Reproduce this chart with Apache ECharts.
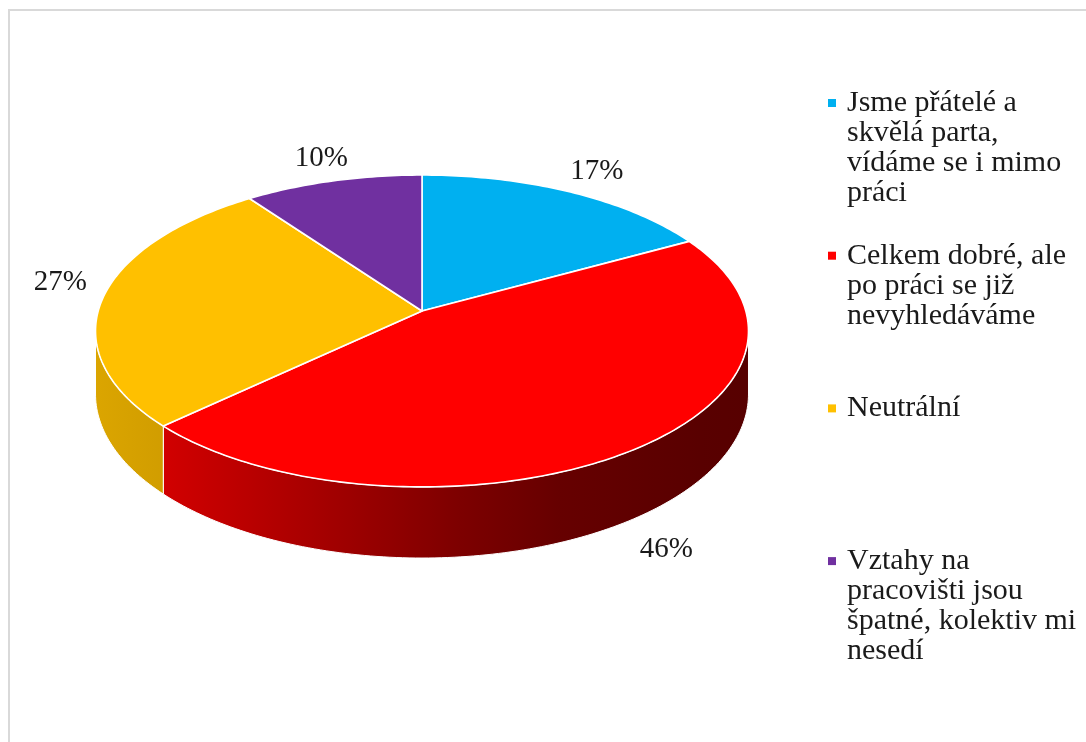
<!DOCTYPE html>
<html>
<head>
<meta charset="utf-8">
<script src="https://cdn.jsdelivr.net/npm/echarts@6/dist/echarts.min.js"></script>
<style>
  html, body { margin: 0; padding: 0; background: #fff; }
  #chart { width: 1086px; height: 742px; }
</style>
</head>
<body>
<div id="chart"></div>
<script>
// Categories (legend text, wrapped as shown) and their shares
const categories = [
  'Jsme přátelé a\nskvělá parta,\nvídáme se i mimo\npráci',
  'Celkem dobré, ale\npo práci se již\nnevyhledáváme',
  'Neutrální',
  'Vztahy na\npracovišti jsou\nšpatné, kolektiv mi\nnesedí'
];
const values = [17, 46, 27, 10];
const colors = ['#00B0F0', '#FF0000', '#FFC000', '#7030A0'];

const FONT = '"Liberation Serif", "Times New Roman", serif';
const total = values.reduce((s, v) => s + v, 0);

// Projection of the tilted disk (perspective: back edge smaller than front edge)
const CX = 422, CY = 311, RX = 323.8, RY = 153.4, PERSP = 0.128, DEPTH = 62;
function proj(theta, r, drop) {
  const u = r * Math.sin(theta), w = r * Math.cos(theta);
  const s = 1 / (1 + PERSP * w);
  return [CX + RX * u * s, CY - RY * w * s + drop * s];
}
// Silhouette angles of the cylinder wall (clockwise from 12 o'clock)
const THETA_R = Math.acos(-PERSP);
const THETA_L = 2 * Math.PI - THETA_R;

// Lighting across the wall, by screen x
const shadeStops = [[96, 0.86], [165, 0.82], [300, 0.67], [460, 0.49], [560, 0.40], [700, 0.35], [749, 0.34]];
function shade(hex, f) {
  const n = parseInt(hex.slice(1), 16);
  const r = Math.round(((n >> 16) & 255) * f), g = Math.round(((n >> 8) & 255) * f), b = Math.round((n & 255) * f);
  return 'rgb(' + r + ',' + g + ',' + b + ')';
}
function wallGradient(hex) {
  const x0 = shadeStops[0][0], x1 = shadeStops[shadeStops.length - 1][0];
  return {
    type: 'linear', global: true, x: x0, y: 0, x2: x1, y2: 0,
    colorStops: shadeStops.map(([x, f]) => ({ offset: (x - x0) / (x1 - x0), color: shade(hex, f) }))
  };
}

function arcPoints(a0, a1, r, drop) {
  const pts = [];
  const n = Math.max(2, Math.ceil((a1 - a0) / (Math.PI / 180)));
  for (let k = 0; k <= n; k++) pts.push(proj(a0 + (a1 - a0) * k / n, r, drop));
  return pts;
}

function makeRender(idx) {
  return function (params, api) {
    const v = api.value(0);
    let before = 0;
    for (let j = 0; j < idx; j++) before += values[j];
    const a0 = before / total * 2 * Math.PI;
    const a1 = a0 + v / total * 2 * Math.PI;
    const color = api.visual('color');
    const children = [];

    // visible part of the wall
    const w0 = Math.max(a0, THETA_R), w1 = Math.min(a1, THETA_L);
    if (w1 > w0) {
      const topEdge = arcPoints(w0, w1, 1, 0);
      const botEdge = arcPoints(w0, w1, 1, DEPTH).reverse();
      children.push({
        type: 'polygon', z2: 1,
        shape: { points: topEdge.concat(botEdge) },
        style: { fill: wallGradient(colors[idx]), stroke: '#ffffff', lineWidth: 1, lineJoin: 'round' }
      });
    }

    // top face
    children.push({
      type: 'polygon', z2: 10,
      shape: { points: [proj(0, 0, 0)].concat(arcPoints(a0, a1, 1, 0)) },
      style: { fill: color, stroke: '#ffffff', lineWidth: 1.6, lineJoin: 'round' }
    });

    // percentage label outside the slice
    const mid = (a0 + a1) / 2;
    const c = Math.cos(mid), sn = Math.sin(mid);
    const f = Math.min(1.1, Math.max(0, -1.35 * c));
    const side = Math.pow(sn, 8);
    const p = proj(mid, 1.08, DEPTH * f);
    children.push({
      type: 'text', z2: 20,
      x: p[0] + sn * (26 - 8 * side) + 3 * c,
      y: p[1] - c * 14 - 12 * side,
      style: {
        text: Math.round(v / total * 100) + '%',
        font: '29px ' + FONT, fill: '#1a1a1a',
        align: 'center', verticalAlign: 'middle'
      }
    });
    return { type: 'group', children: children };
  };
}

// Legend entries: first text line centred on the marker, evenly spaced
const LEGEND_FIRST = 103, LEGEND_STEP = 152.7, LINE_H = 30;
const legends = categories.map((name, i) => {
  const lines = name.split('\n').length;
  return {
    data: [name],
    orient: 'vertical',
    left: 828,
    top: LEGEND_FIRST + i * LEGEND_STEP - (2 * lines - 1) * LINE_H / 2,
    padding: 0,
    itemGap: 0,
    itemWidth: 8,
    itemHeight: 8,
    icon: 'rect',
    selectedMode: false,
    // blank leading lines keep the marker level with the first text line
    formatter: (n) => '\n'.repeat(lines - 1) + n,
    textStyle: {
      fontFamily: FONT, fontSize: 30, lineHeight: LINE_H, color: '#1a1a1a',
      padding: [0, 0, 0, 6]
    }
  };
});

const chart = echarts.init(document.getElementById('chart'), null, { renderer: 'canvas' });
chart.setOption({
  backgroundColor: '#ffffff',
  animation: false,
  legend: legends,
  graphic: [{
    type: 'rect', silent: true,
    shape: { x: 9, y: 10, width: 1300, height: 1000 },
    style: { fill: 'none', stroke: '#d9d9d9', lineWidth: 2 }
  }],
  series: categories.map((name, i) => ({
    type: 'custom',
    name: name,
    coordinateSystem: 'none',
    itemStyle: { color: colors[i] },
    data: [values[i]],
    renderItem: makeRender(i)
  }))
});
</script>
</body>
</html>
